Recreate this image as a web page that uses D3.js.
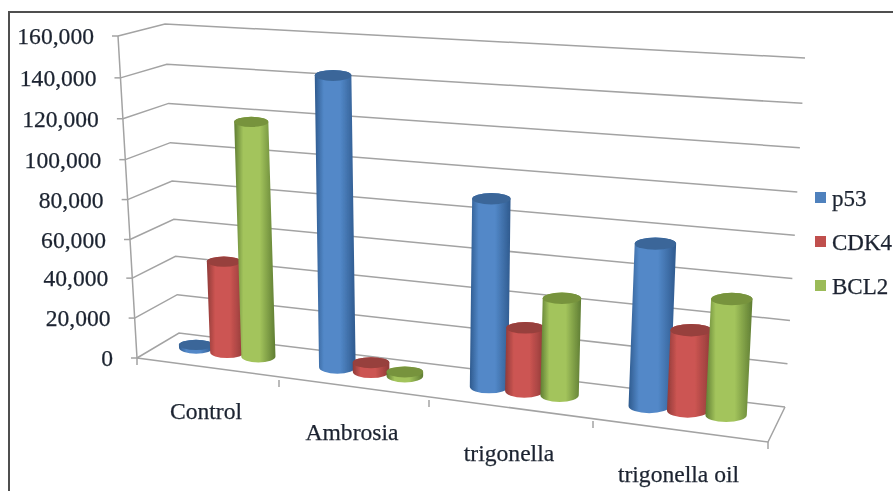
<!DOCTYPE html>
<html>
<head>
<meta charset="utf-8">
<script src="https://cdn.jsdelivr.net/npm/d3@7"></script>
<style>
  html, body { margin: 0; padding: 0; background: #fff; overflow: hidden; }
  text { font-family: "Liberation Serif", serif; font-size: 23.6px; fill: #1c2430; stroke: #1c2430; stroke-width: 0.25px; }
  .legend-label { font-size: 23px; }
</style>
</head>
<body>
<div id="container"></div>
<script>
/* DATA */
const categories = ["Control", "Ambrosia", "trigonella", "trigonella oil"];
const seriesNames = ["p53", "CDK4", "BCL2"];
const p53 = [1500, 143500, 90500, 76000];
const cdk4 = [46000, 4400, 30000, 37000];
const bcl2 = [118000, 2000, 46000, 53500];
const seriesValues = [p53, cdk4, bcl2];
const valueTicks = [0, 20000, 40000, 60000, 80000, 100000, 120000, 140000, 160000];

/* CONSTANTS AND GLOBALS */
const width = 893, height = 491;
const colors = [
  {edge: "#2f5a8e", mid: "#5288c8", top: "#3a6699", key: "#4f81bd"},
  {edge: "#8f3a38", mid: "#cc5552", top: "#973f3c", key: "#c0504d"},
  {edge: "#5f7d33", mid: "#a3c45c", top: "#77933d", key: "#9bbb59"}
];
const barDepth = 0.6, barStep = 0.225, barRadius = 0.112, tilt = 0.3, barShift = -0.03;

// SCALES
// the floor is a skewed plane, so each edge of it gets its own scale
const catDomain = [0, 1, 2, 3, 4];
const frontX = d3.scaleLinear().domain(catDomain).range([137, 279, 429, 593, 768]);
const frontY = d3.scaleLinear().domain(catDomain).range([358, 380, 400, 421, 442]);
const backX = d3.scaleLinear().domain(catDomain).range([179, 315, 465, 617, 785]);
const backY = d3.scaleLinear().domain(catDomain).range([333, 351, 370, 388, 407]);
// how far the top of the value axis sits from the floor
const frontRiseX = d3.scaleLinear().domain([0, 4]).range([-19, 20]);
const frontRiseY = d3.scaleLinear().domain([0, 4]).range([-322, -365]);
const backRiseX = d3.scaleLinear().domain([0, 4]).range([-14, 20]);
const backRiseY = d3.scaleLinear().domain([0, 4]).range([-309, -349]);
// gridlines bunch up slightly towards the floor
const valueScale = d3.scaleLinear()
  .domain(valueTicks)
  .range([0, 0.124, 0.248, 0.368, 0.492, 0.616, 0.743, 0.87, 1]);
const formatValue = d3.format(",");

// u = along categories, d = depth (0 front, 1 back), v = value
function project(u, d, v) {
  const t = valueScale(v);
  const fx = frontX(u) + frontRiseX(u) * t;
  const fy = frontY(u) + frontRiseY(u) * t;
  const bx = backX(u) + backRiseX(u) * t;
  const by = backY(u) + backRiseY(u) * t;
  return [fx + (bx - fx) * d, fy + (by - fy) * d];
}

// CREATE SVG ELEMENT
const svg = d3.select("#container")
  .append("svg")
  .attr("width", width)
  .attr("height", height);

const defs = svg.append("defs");
defs.append("filter")
  .attr("id", "soft")
  .attr("x", "-5%").attr("y", "-5%").attr("width", "110%").attr("height", "110%")
  .append("feGaussianBlur")
  .attr("stdDeviation", 0.5);

colors.forEach(function(c, i) {
  const grad = defs.append("linearGradient").attr("id", "cyl" + i);
  grad.append("stop").attr("offset", "0%").attr("stop-color", c.edge);
  grad.append("stop").attr("offset", "22%").attr("stop-color", c.mid);
  grad.append("stop").attr("offset", "62%").attr("stop-color", c.mid);
  grad.append("stop").attr("offset", "100%").attr("stop-color", c.edge);
});

const root = svg.append("g").attr("filter", "url(#soft)");

// chart frame, only top and left show in the picture
root.append("path")
  .attr("d", "M9,491V12H893")
  .attr("fill", "none")
  .attr("stroke", "#505050")
  .attr("stroke-width", 2);

// WALLS AND GRID
const line = d3.line();
const grid = root.append("g")
  .attr("fill", "none")
  .attr("stroke", "#a3a3a3")
  .attr("stroke-width", 1.5);

valueTicks.forEach(function(v) {
  grid.append("path").attr("d", line([project(0, 0, v), project(0, 1, v), project(4, 1, v)]));
  const p = project(0, 0, v);
  grid.append("path").attr("d", line([[p[0] - 6, p[1]], p]));
});

// value axis, front floor edge, right floor edge
grid.append("path").attr("d", line([project(0, 0, 160000), project(0, 0, 0), [137, 365]]));
grid.append("path").attr("d", line([project(0, 0, 0), project(4, 0, 0), project(4, 1, 0)]));
catDomain.slice(1).forEach(function(u) {
  const p = project(u, 0, 0);
  grid.append("path").attr("d", line([p, [p[0], p[1] + 7]]));
});

// VALUE LABELS
root.append("g")
  .selectAll("text")
  .data(valueTicks)
  .join("text")
  .attr("text-anchor", "end")
  .attr("x", d => project(0, 0, d)[0] - 24)
  .attr("y", d => project(0, 0, d)[1] + 8)
  .text(d => formatValue(d));

// CATEGORY LABELS
root.append("g")
  .selectAll("text")
  .data(categories)
  .join("text")
  .attr("text-anchor", "middle")
  .attr("x", (d, i) => frontX(i + 0.5) - 2)
  .attr("y", (d, i) => frontY(i + 0.5) + 50)
  .text(d => d);

// CYLINDERS
categories.forEach(function(cat, i) {
  seriesValues.forEach(function(values, j) {
    const u = i + 0.5 + barShift + (j - 1) * barStep;
    const base = project(u, barDepth, 0);
    const top = project(u, barDepth, values[i]);
    const rx = (frontX(u + barRadius) - frontX(u - barRadius) + backX(u + barRadius) - backX(u - barRadius)) / 4 + 1.5;
    const ry = rx * tilt;
    const ryBase = ry * 1.15;

    root.append("path")
      .attr("fill", `url(#cyl${j})`)
      .attr("d", `M${top[0] - rx},${top[1]}L${base[0] - rx},${base[1]}` +
        `A${rx},${ryBase} 0 0 0 ${base[0] + rx},${base[1]}` +
        `L${top[0] + rx},${top[1]}` +
        `A${rx},${ry} 0 0 0 ${top[0] - rx},${top[1]}Z`);

    root.append("ellipse")
      .attr("cx", top[0])
      .attr("cy", top[1])
      .attr("rx", rx)
      .attr("ry", ry)
      .attr("fill", colors[j].top);
  });
});

// LEGEND
const legendRow = d3.scalePoint().domain(seriesNames).range([197.5, 285.5]);
const legend = root.append("g")
  .selectAll("g")
  .data(seriesNames)
  .join("g")
  .attr("transform", d => `translate(815,${legendRow(d)})`);

legend.append("rect")
  .attr("x", 0).attr("y", -5.5)
  .attr("width", 11).attr("height", 11)
  .attr("fill", (d, i) => colors[i].key);

legend.append("text")
  .attr("class", "legend-label")
  .attr("x", 17)
  .attr("y", 8)
  .text(d => d);
</script>
</body>
</html>
